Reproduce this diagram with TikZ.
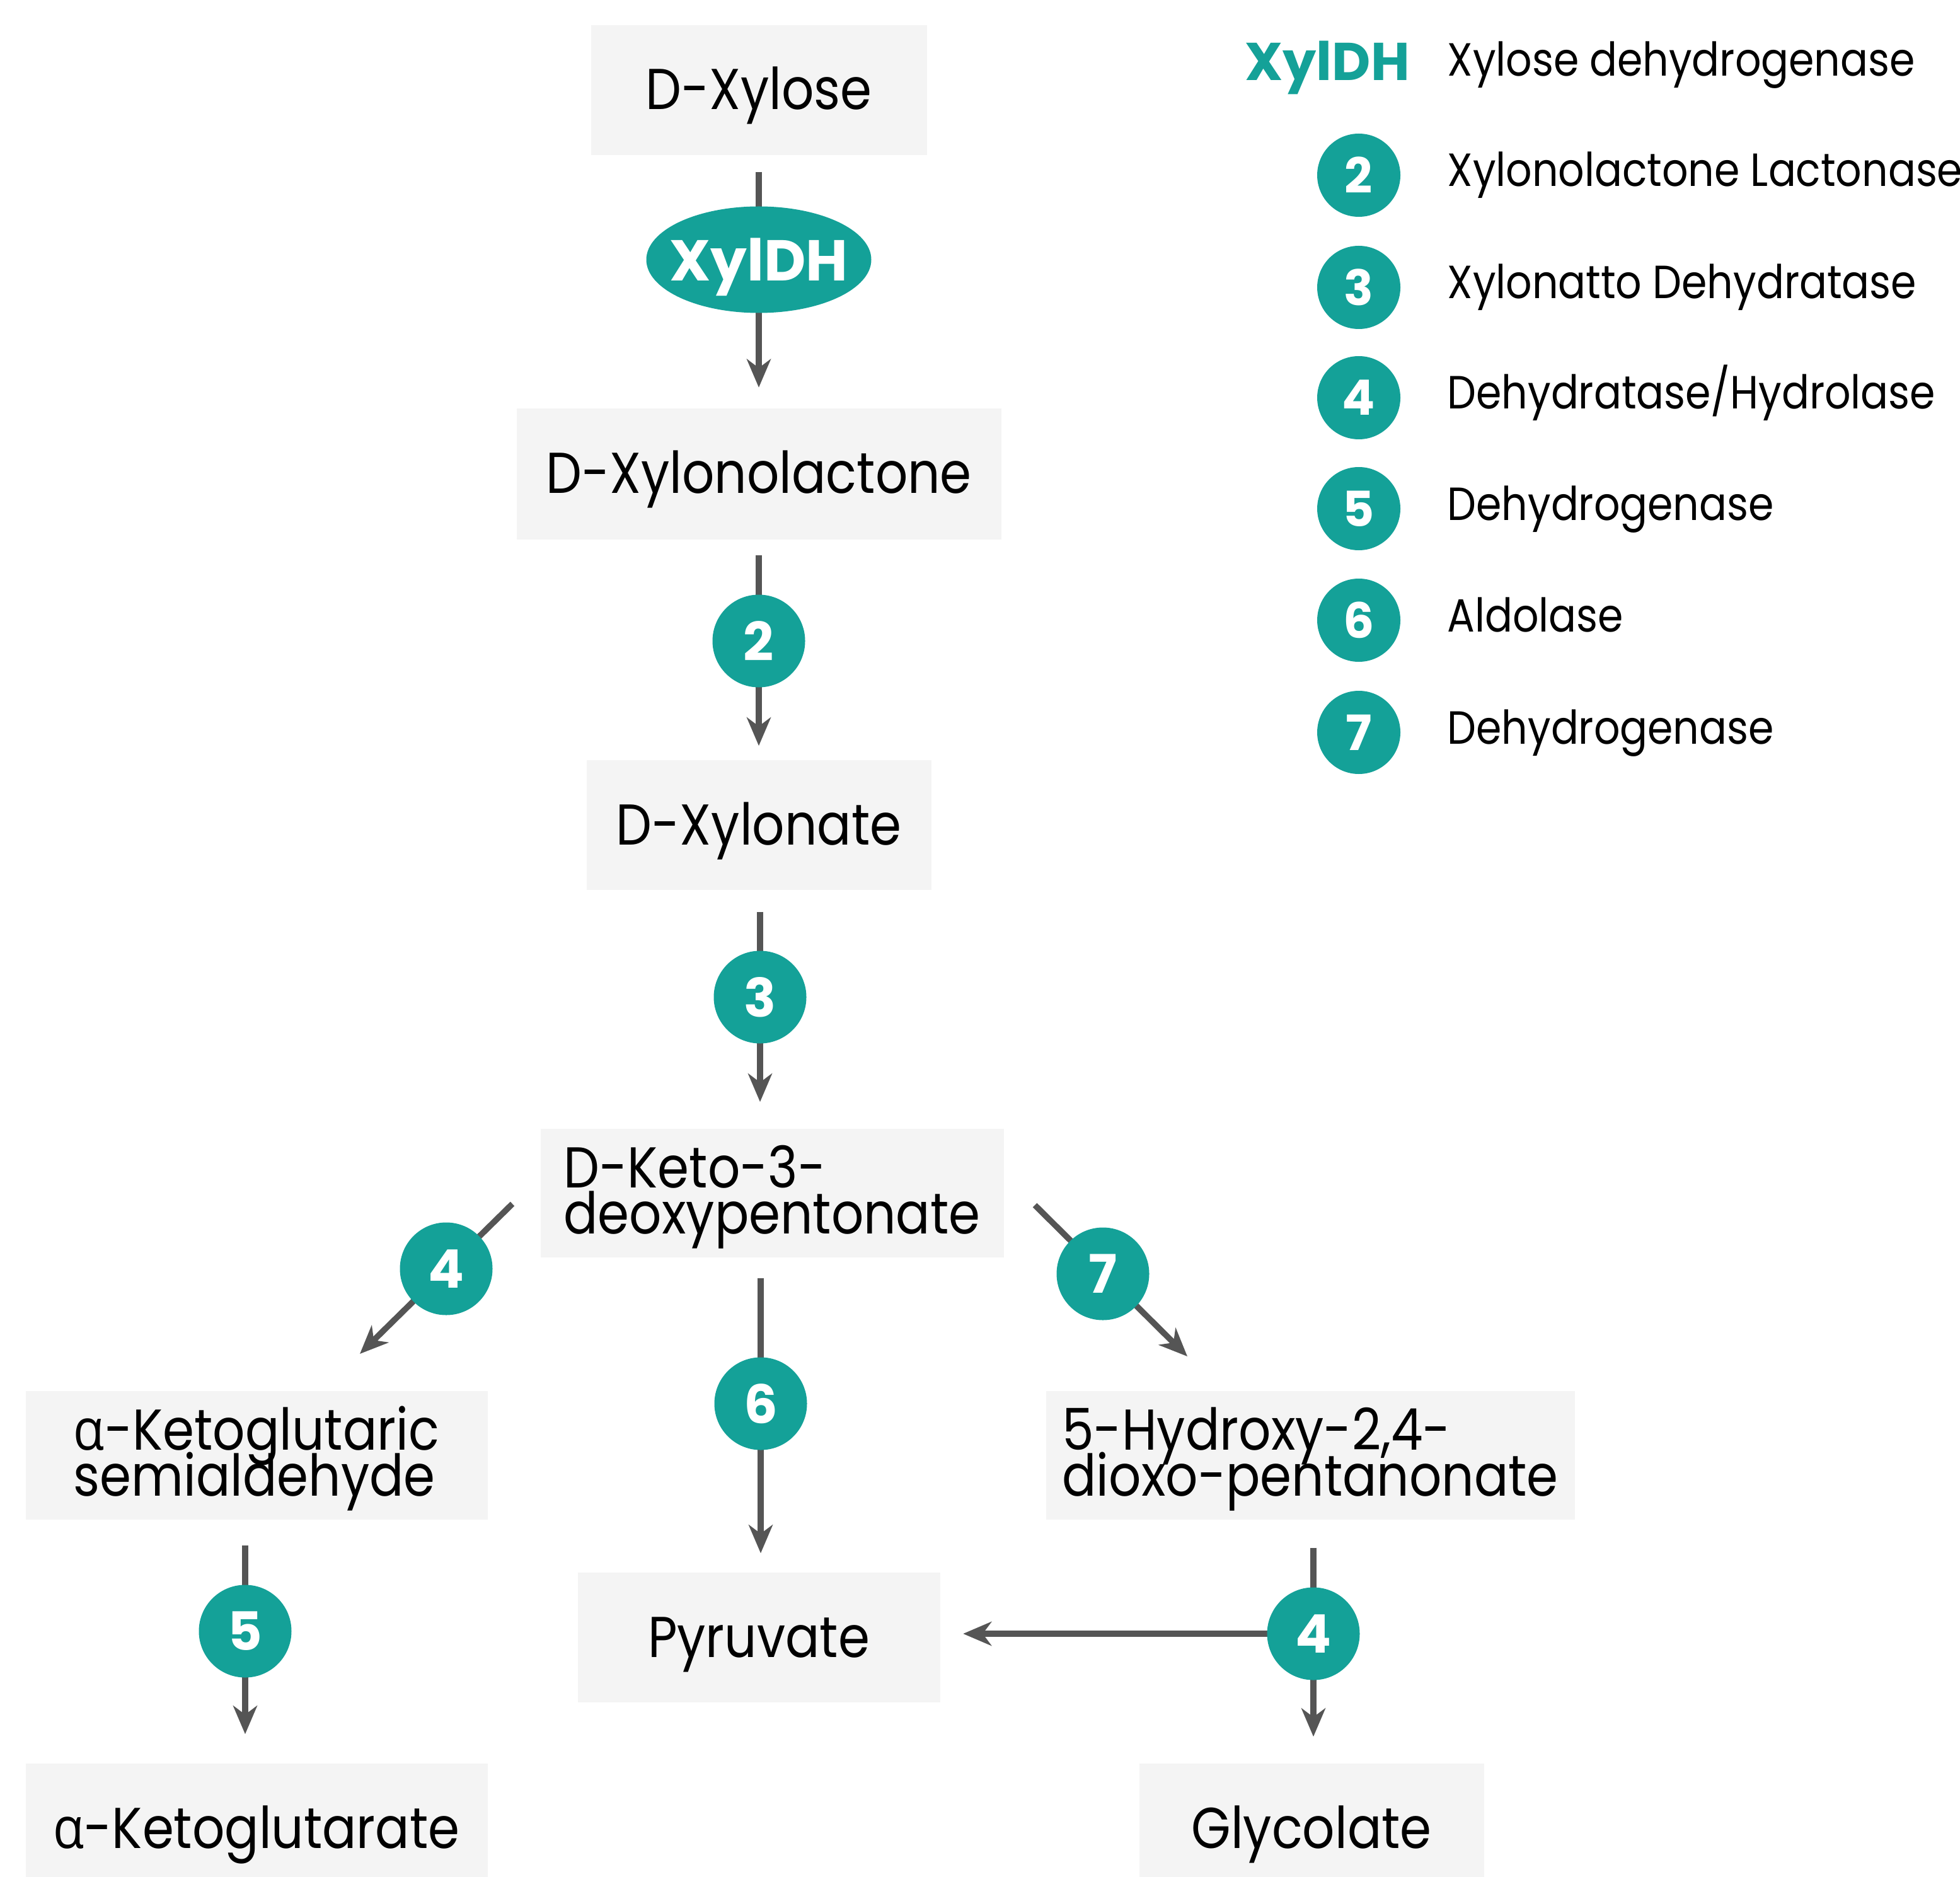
\documentclass[tikz,border=0pt]{standalone}
\usepackage{fontspec}
\setmainfont{Poppins}[FakeStretch=0.88]
\newfontfamily\pbold{Poppins}
\newfontfamily\grk{Open Sans}[FakeStretch=0.88]
\usetikzlibrary{arrows.meta,shapes.geometric,backgrounds}
\definecolor{teal1}{HTML}{14A198}
\definecolor{boxgray}{HTML}{F4F4F4}
\definecolor{arrgray}{HTML}{555555}
\newcommand{\alf}{{\grk α}}
\newcommand{\onel}[1]{\raisebox{-0.31cm}[0pt][0pt]{#1}}
\newcommand{\twol}[2]{\raisebox{-0.645cm}[0pt][0pt]{\vbox{\baselineskip=0.73cm\lineskiplimit=-1cm\hbox{#1}\hbox{#2}}}}
\begin{document}
\begin{tikzpicture}[
  box/.style={fill=boxgray, draw=none, inner sep=0pt,
    font=\fontsize{26}{26}\selectfont, text=black},
  enz/.style={circle, fill=teal1, text=white, inner sep=0pt, minimum size=1.47cm,
    font=\pbold\bfseries\fontsize{24}{24}\selectfont},
  lenz/.style={circle, fill=teal1, text=white, inner sep=0pt, minimum size=1.32cm,
    font=\pbold\bfseries\fontsize{22}{22}\selectfont},
  ltext/.style={anchor=base west, inner sep=0pt, font=\fontsize{21}{21}\selectfont},
  arr/.style={draw=arrgray, line width=2.7pt,
    -{Stealth[length=0.45cm, width=0.38cm, inset=0.14cm]}},
]
\useasboundingbox (0,0) rectangle (31.1,-29.77);
% boxes
\node[box, minimum width=5.33cm, minimum height=2.06cm] (xylose) at (12.04,-1.43) {\onel{D-Xylose}};
\node[box, minimum width=7.69cm, minimum height=2.07cm] (lactone) at (12.04,-7.52) {\onel{D-Xylonolactone}};
\node[box, minimum width=5.47cm, minimum height=2.06cm] (xylonate) at (12.04,-13.09) {\onel{D-Xylonate}};
\node[box, minimum width=7.35cm, minimum height=2.04cm] (keto) at (12.25,-18.93) {\twol{D-Keto-3-}{deoxypentonate}};
\node[box, minimum width=7.33cm, minimum height=2.04cm] (semi) at (4.07,-23.09) {\twol{\alf-Ketoglutaric}{semialdehyde}};
\node[box, minimum width=8.39cm, minimum height=2.04cm] (hydroxy) at (20.79,-23.09) {\twol{5-Hydroxy-2,4-}{dioxo-pentanonate}};
\node[box, minimum width=5.75cm, minimum height=2.06cm] (pyruvate) at (12.04,-25.98) {\onel{Pyruvate}};
\node[box, minimum width=7.33cm, minimum height=2.06cm] (akg) at (4.07,-29.01) {\onel{\alf-Ketoglutarate}};
\node[box, minimum width=5.47cm, minimum height=2.06cm] (glycolate) at (20.81,-29.01) {\onel{Glycolate}};
% enzyme markers on the arrows
\node[ellipse, fill=teal1, text=white, inner sep=0pt, minimum width=3.57cm, minimum height=1.69cm,
  font=\pbold\bfseries\fontsize{26}{26}\selectfont] (xyldh) at (12.04,-4.12)
  {\raisebox{-0.34cm}[0pt][0pt]{\makebox[0pt]{XylDH}}};
\node[enz] (c2) at (12.04,-10.17) {2};
\node[enz] (c3) at (12.06,-15.82) {3};
\node[enz] (c4) at (7.08,-20.13) {4};
\node[enz] (c6) at (12.07,-22.27) {6};
\node[enz] (c7) at (17.50,-20.21) {7};
\node[enz] (c5) at (3.89,-25.88) {5};
\node[enz] (c4b) at (20.84,-25.92) {4};
\coordinate (d4a) at (8.13,-19.10);
\coordinate (d4b) at (5.71,-21.48);
\coordinate (d7a) at (16.42,-19.12);
\coordinate (d7b) at (18.84,-21.52);
% connectors
\begin{scope}[on background layer]
\draw[arr, shorten <=0.26cm, shorten >=0.33cm] (xylose.south) -- (lactone.north);
\draw[arr, shorten <=0.25cm, shorten >=0.22cm] (lactone.south) -- (xylonate.north);
\draw[arr, shorten <=0.34cm, shorten >=0.42cm] (c3 |- xylonate.south) -- (c3 |- keto.north);
\draw[arr, shorten <=0.32cm, shorten >=0.30cm] (c6 |- keto.south) -- (c6 |- pyruvate.north);
\draw[arr] (d4a) -- (d4b);
\draw[arr] (d7a) -- (d7b);
\draw[arr, shorten <=0.40cm, shorten >=0.46cm] (c5 |- semi.south) -- (c5 |- akg.north);
\draw[arr, shorten <=0.44cm, shorten >=0.42cm] (c4b |- hydroxy.south) -- (c4b |- glycolate.north);
\draw[arr, shorten >=0.36cm] (c4b.center) -- (c4b -| pyruvate.east);
\end{scope}
% legend
\node[anchor=base, inner sep=0pt, text=teal1, font=\pbold\bfseries\fontsize{24}{24}\selectfont] (lxyl) at (21.06,-1.28) {XylDH};
\node[ltext] (t1) at (22.96,-1.21) {Xylose dehydrogenase};
\node[lenz] (l2) at (21.56,-2.78) {2};
\node[ltext] (t2) at (22.96,-2.96) {Xylonolactone Lactonase};
\node[lenz] (l3) at (21.56,-4.56) {3};
\node[ltext] (t3) at (22.96,-4.74) {Xylonatto Dehydratase};
\node[lenz] (l4) at (21.56,-6.31) {4};
\node[ltext] (t4) at (22.96,-6.49) {Dehydratase/Hydrolase};
\node[lenz] (l5) at (21.56,-8.07) {5};
\node[ltext] (t5) at (22.96,-8.25) {Dehydrogenase};
\node[lenz] (l6) at (21.56,-9.84) {6};
\node[ltext] (t6) at (22.96,-10.02) {Aldolase};
\node[lenz] (l7) at (21.56,-11.62) {7};
\node[ltext] (t7) at (22.96,-11.80) {Dehydrogenase};
\end{tikzpicture}
\end{document}
